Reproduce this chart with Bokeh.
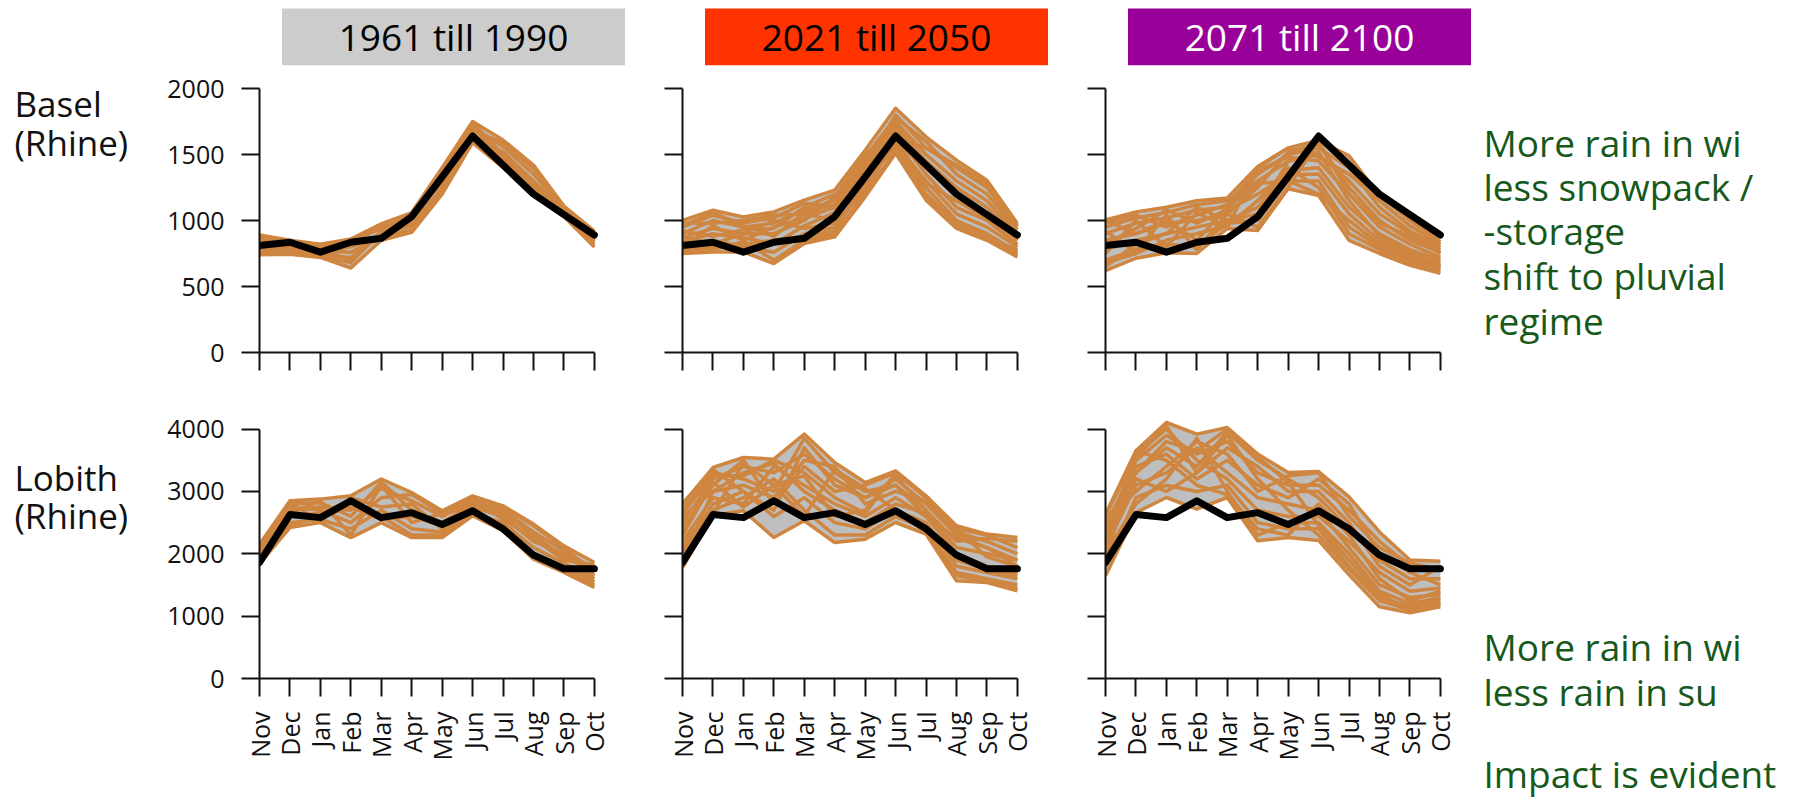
import math
import numpy as np
from bokeh.plotting import figure
from bokeh.layouts import row, column
from bokeh.models import Range1d, FixedTicker
from bokeh.core.properties import value
from bokeh.embed import file_html
from bokeh.resources import INLINE

# ---------------- data ----------------
months = ["Nov", "Dec", "Jan", "Feb", "Mar", "Apr", "May", "Jun", "Jul", "Aug", "Sep", "Oct"]
periods = ["1961 till 1990", "2021 till 2050", "2071 till 2100"]
period_fill = ["#cccccc", "#ff3300", "#990099"]
period_text = ["#000000", "#000000", "#ffffff"]
stations = [["Basel", "(Rhine)"], ["Lobith", "(Rhine)"]]
notes_top = ["More rain in wi", "less snowpack /", "-storage", "shift to pluvial", "regime"]
notes_bottom = ["More rain in wi", "less rain in su", "Impact is evident"]

basel_ticks = [0, 500, 1000, 1500, 2000]
lobith_ticks = [0, 1000, 2000, 3000, 4000]

# observed reference regime (black line)
basel_obs = [810, 835, 760, 835, 865, 1030, 1330, 1640, 1420, 1200, 1045, 890]
lobith_obs = [1860, 2630, 2580, 2850, 2580, 2660, 2470, 2690, 2400, 1980, 1760, 1760]

# model ensemble members (orange lines)
basel_1961_1990 = [
    [740, 745, 720, 640, 850, 910, 1200, 1590, 1400, 1190, 1030, 800],
    [890, 850, 820, 860, 975, 1060, 1400, 1750, 1610, 1420, 1110, 920],
    [800, 820, 760, 800, 880, 1000, 1300, 1660, 1480, 1260, 1060, 860],
    [780, 800, 740, 720, 900, 960, 1250, 1620, 1450, 1240, 1050, 840],
    [850, 830, 790, 840, 940, 1040, 1350, 1700, 1560, 1350, 1090, 900],
    [820, 790, 770, 760, 870, 930, 1230, 1640, 1520, 1300, 1070, 880],
    [760, 770, 730, 680, 920, 1020, 1380, 1720, 1440, 1220, 1040, 820],
    [870, 840, 800, 820, 960, 980, 1320, 1680, 1590, 1390, 1100, 910],
    [830, 810, 780, 700, 900, 1050, 1280, 1600, 1420, 1200, 1040, 850],
    [770, 840, 810, 850, 950, 960, 1360, 1740, 1500, 1280, 1080, 890],
]
basel_2021_2050 = [
    [750, 762, 762, 674, 826, 876, 1179, 1510, 1154, 940, 850, 724],
    [1000, 1078, 1027, 1065, 1154, 1230, 1532, 1850, 1634, 1457, 1305, 978],
    [900, 1000, 950, 980, 1080, 1150, 1450, 1750, 1500, 1300, 1150, 900],
    [820, 850, 800, 760, 900, 950, 1250, 1600, 1250, 1000, 900, 760],
    [950, 1040, 980, 1020, 1130, 1100, 1400, 1800, 1550, 1400, 1250, 950],
    [780, 800, 820, 850, 880, 920, 1300, 1550, 1200, 980, 880, 740],
    [870, 940, 900, 900, 1000, 1180, 1500, 1700, 1400, 1200, 1050, 850],
    [980, 980, 1000, 1040, 1050, 1000, 1350, 1650, 1350, 1100, 1000, 820],
    [840, 900, 870, 820, 960, 1060, 1480, 1780, 1600, 1350, 1200, 930],
    [920, 880, 930, 940, 1100, 1200, 1280, 1580, 1300, 1050, 950, 800],
    [800, 960, 850, 950, 1020, 1100, 1420, 1720, 1450, 1250, 1100, 880],
    [960, 1060, 960, 880, 1060, 1120, 1380, 1680, 1180, 960, 870, 780],
    [880, 820, 900, 1000, 940, 980, 1220, 1620, 1550, 1420, 1280, 960],
    [760, 780, 840, 700, 850, 900, 1200, 1530, 1280, 1150, 1020, 870],
]
basel_2071_2100 = [
    [620, 714, 756, 750, 940, 925, 1240, 1190, 850, 750, 660, 600],
    [1005, 1065, 1100, 1150, 1170, 1410, 1550, 1608, 1490, 1190, 1000, 840],
    [900, 980, 1020, 1080, 1100, 1350, 1500, 1550, 1400, 1100, 920, 800],
    [700, 780, 820, 800, 980, 1000, 1300, 1300, 950, 800, 700, 640],
    [950, 1020, 1060, 1120, 1150, 1300, 1450, 1500, 1300, 1050, 900, 780],
    [780, 850, 900, 950, 1000, 1100, 1380, 1400, 1100, 900, 780, 700],
    [850, 900, 980, 1000, 1050, 1250, 1520, 1580, 1250, 1000, 850, 760],
    [680, 750, 850, 900, 960, 1150, 1400, 1250, 900, 780, 680, 620],
    [980, 1040, 950, 1040, 1120, 1380, 1480, 1450, 1200, 950, 820, 720],
    [820, 940, 1080, 980, 1080, 1200, 1350, 1350, 1050, 850, 740, 680],
    [650, 820, 900, 1100, 1000, 1050, 1450, 1520, 1150, 880, 760, 660],
    [1000, 900, 1000, 850, 1100, 1280, 1300, 1200, 1000, 820, 720, 650],
    [750, 1000, 800, 1060, 950, 1400, 1550, 1480, 1350, 1150, 960, 820],
    [920, 760, 1040, 780, 1050, 950, 1250, 1600, 1200, 980, 880, 750],
]
lobith_1961_1990 = [
    [1840, 2420, 2500, 2260, 2500, 2260, 2260, 2610, 2370, 1915, 1700, 1460],
    [2150, 2850, 2877, 2930, 3200, 2983, 2690, 2930, 2770, 2476, 2128, 1860],
    [2000, 2700, 2750, 2700, 3050, 2850, 2600, 2850, 2700, 2350, 2050, 1750],
    [1900, 2500, 2550, 2400, 2700, 2400, 2350, 2700, 2450, 2000, 1780, 1550],
    [2100, 2800, 2820, 2600, 3150, 2700, 2500, 2800, 2650, 2300, 1950, 1800],
    [1950, 2600, 2650, 2850, 2600, 2300, 2300, 2650, 2500, 2100, 1850, 1600],
    [2050, 2750, 2700, 2500, 2900, 2950, 2650, 2900, 2750, 2450, 2100, 1700],
    [1880, 2450, 2600, 2750, 2550, 2600, 2450, 2620, 2400, 1950, 1720, 1500],
    [2120, 2650, 2850, 2300, 3100, 2500, 2650, 2750, 2600, 2200, 2000, 1650],
    [1980, 2820, 2520, 2900, 2750, 2800, 2400, 2880, 2550, 2250, 1900, 1820],
]
lobith_2021_2050 = [
    [1780, 2620, 2690, 2261, 2530, 2180, 2235, 2502, 2316, 1567, 1540, 1407],
    [2797, 3384, 3545, 3518, 3920, 3464, 3143, 3331, 2930, 2449, 2316, 2262],
    [2500, 3200, 3400, 3300, 3600, 3200, 2900, 3200, 2800, 2300, 2100, 1900],
    [2000, 2800, 3000, 2600, 2900, 2500, 2400, 2700, 2500, 1800, 1700, 1600],
    [2700, 3300, 3200, 3000, 3850, 3300, 3000, 3100, 2700, 2200, 2250, 2200],
    [2200, 2900, 2800, 3400, 3100, 2800, 2600, 2900, 2600, 2000, 1800, 1700],
    [2400, 3100, 3500, 2800, 3400, 3000, 3100, 3300, 2900, 2400, 1950, 1800],
    [2100, 2700, 2900, 3200, 2700, 2300, 2300, 2600, 2400, 1700, 1600, 1500],
    [2600, 3000, 3100, 2900, 3500, 3400, 2800, 3000, 2850, 2350, 2200, 2000],
    [2300, 3150, 2750, 3100, 3250, 2600, 2700, 3250, 2700, 1900, 1750, 1650],
    [1900, 3000, 3300, 3450, 3000, 2700, 2500, 2800, 2650, 2100, 2000, 1900],
    [2800, 3350, 3000, 2700, 3700, 3100, 2900, 3100, 2600, 2250, 2100, 1800],
    [2200, 2650, 3450, 3100, 2600, 3350, 3050, 2700, 2350, 1650, 1550, 1450],
    [2650, 3250, 3250, 3500, 3300, 2900, 2650, 3300, 2900, 2400, 2300, 2100],
]
lobith_2071_2100 = [
    [1647, 2660, 2903, 2717, 2903, 2208, 2261, 2215, 1663, 1150, 1054, 1150],
    [2637, 3652, 4106, 3920, 4026, 3599, 3304, 3320, 2914, 2350, 1900, 1880],
    [2400, 3500, 3900, 3600, 3800, 3300, 3100, 3100, 2700, 2200, 1800, 1750],
    [1800, 2900, 3100, 3000, 3100, 2500, 2400, 2400, 1800, 1300, 1150, 1250],
    [2500, 3300, 3700, 3400, 3950, 3500, 3200, 2900, 2400, 1900, 1600, 1600],
    [2100, 3100, 3300, 3700, 3300, 2900, 2800, 2700, 2100, 1500, 1300, 1350],
    [2300, 3400, 3600, 3200, 3500, 3100, 2900, 3200, 2800, 2000, 1700, 1500],
    [2000, 2800, 3200, 3850, 3000, 2300, 2500, 2500, 2000, 1400, 1200, 1300],
    [2600, 3600, 4000, 3500, 3200, 2700, 2600, 2600, 2200, 1700, 1400, 1450],
    [2200, 3200, 3000, 3300, 3700, 3400, 3000, 3000, 2500, 1800, 1500, 1800],
    [1900, 3550, 4050, 3300, 3900, 3200, 2700, 2300, 1750, 1250, 1100, 1200],
    [2500, 3000, 3400, 3800, 3600, 3000, 3250, 3300, 2600, 2100, 1850, 1750],
    [2150, 3650, 3500, 3100, 2950, 2400, 2300, 2800, 2300, 1600, 1250, 1400],
    [2400, 3300, 3800, 3650, 4000, 3550, 3150, 2450, 1900, 1350, 1100, 1200],
]

# ---------------- style / layout ----------------
FONT = "Open Sans"
ORANGE = "#cf8640"
GREY = "#bebebe"
GREEN = "#17581b"
W_TOTAL = 1800
HEADER_H = 68
LABEL_W = 158
P1_W, P1_LEFT = 464, 101
PN_W, PN_LEFT = 423, 60
RIGHT_B = 19
NOTE_W = W_TOTAL - LABEL_W - P1_W - 2 * PN_W
TOP_H, TOP_T, TOP_FRAME = 331, 14, 270
BOT_H, BOT_T, BOT_FRAME = 401, 14, 265
X_END = 11.3
BASE_SHIFT = 0.38  # empirical offset of rendered alphabetic baseline (in em)


def panel(members, obs, ticks, y_end, first, height, top, frame_h, show_months):
    w = P1_W if first else PN_W
    left = P1_LEFT if first else PN_LEFT
    p = figure(width=w, height=height, x_range=Range1d(0, X_END), y_range=Range1d(0, y_end),
               output_backend="svg", toolbar_location=None,
               min_border_left=left, min_border_right=RIGHT_B, min_border_top=top,
               min_border_bottom=height - top - frame_h)
    x = list(range(len(months)))
    arr = np.array(members, dtype=float)
    p.varea(x=x, y1=arr.min(axis=0), y2=arr.max(axis=0), fill_color=GREY, fill_alpha=1.0)
    p.multi_line(xs=[x] * len(members), ys=members, line_color=ORANGE, line_width=3.5,
                 line_join="round")
    p.line(x, obs, line_color="black", line_width=7, line_join="round", line_cap="round")

    for ax in (p.xaxis[0], p.yaxis[0]):
        ax.axis_line_width = 2
        ax.axis_line_color = "#111111"
        ax.major_tick_line_width = 2
        ax.major_tick_line_color = "#111111"
        ax.major_tick_out = 18
        ax.major_tick_in = 0
        ax.minor_tick_line_color = None
        ax.major_label_text_font = FONT
        ax.major_label_text_color = "#111111"
    p.xaxis.ticker = FixedTicker(ticks=x)
    p.xaxis.bounds = (0, len(months) - 1)
    p.xaxis.major_label_overrides = {i: (m if show_months else "") for i, m in enumerate(months)}
    p.xaxis.major_label_orientation = math.pi / 2
    p.xaxis.major_label_text_font_size = "25px"
    p.xaxis.major_label_standoff = 15
    p.yaxis.ticker = FixedTicker(ticks=ticks)
    p.yaxis.bounds = (ticks[0], ticks[-1])
    p.yaxis.major_label_text_font_size = "25px"
    p.yaxis.major_label_standoff = 17
    if not first:
        p.yaxis.major_label_overrides = {t: "" for t in ticks}
    p.grid.visible = False
    p.outline_line_color = None
    return p


def blank(width, height):
    f = figure(width=width, height=height, x_range=Range1d(0, width), y_range=Range1d(height, 0),
               output_backend="svg", toolbar_location=None, min_border=0,
               x_axis_location=None, y_axis_location=None, frame_align=False)
    f.grid.visible = False
    f.outline_line_color = None
    return f


def add_text(f, xs, ys, texts, size, color, align="left"):
    shift = BASE_SHIFT * size
    f.text(x=xs, y=[y - shift for y in ys], text=texts, text_color=color, text_align=align,
           text_baseline="alphabetic", text_font=value(FONT), text_font_size=value(f"{size}px"))


# header with period boxes
header = blank(W_TOTAL, HEADER_H)
frame_lefts = [LABEL_W + P1_LEFT, LABEL_W + P1_W + PN_LEFT, LABEL_W + P1_W + PN_W + PN_LEFT]
centers = [fl + 194 for fl in frame_lefts]
header.rect(x=centers, y=[36.3] * 3, width=343, height=56.7, fill_color=period_fill, line_color=None)
add_text(header, centers, [50.5] * 3, periods, 37, period_text, align="center")

rows = []
specs = [
    (stations[0], [basel_1961_1990, basel_2021_2050, basel_2071_2100], basel_obs, basel_ticks,
     TOP_FRAME / (264.0 / 2000), TOP_H, TOP_T, TOP_FRAME, False, [48.7, 87.0],
     notes_top, [88, 132, 176, 221, 266]),
    (stations[1], [lobith_1961_1990, lobith_2021_2050, lobith_2071_2100], lobith_obs, lobith_ticks,
     BOT_FRAME / (249.4 / 4000), BOT_H, BOT_T, BOT_FRAME, True, [91.7, 129.3],
     notes_bottom, [261, 306, 388]),
]
for st, ens, obs, ticks, y_end, h, t, fh, show_m, lab_y, notes, note_y in specs:
    lab = blank(LABEL_W, h)
    add_text(lab, [14, 14], lab_y, st, 35, "#111111")
    panels = [panel(m, obs, ticks, y_end, i == 0, h, t, fh, show_m) for i, m in enumerate(ens)]
    note = blank(NOTE_W, h)
    add_text(note, [15] * len(notes), note_y, notes, 37, GREEN)
    rows.append(row(lab, *panels, note))

layout = column(header, *rows)
open("out.html", "w").write(file_html(layout, INLINE))
